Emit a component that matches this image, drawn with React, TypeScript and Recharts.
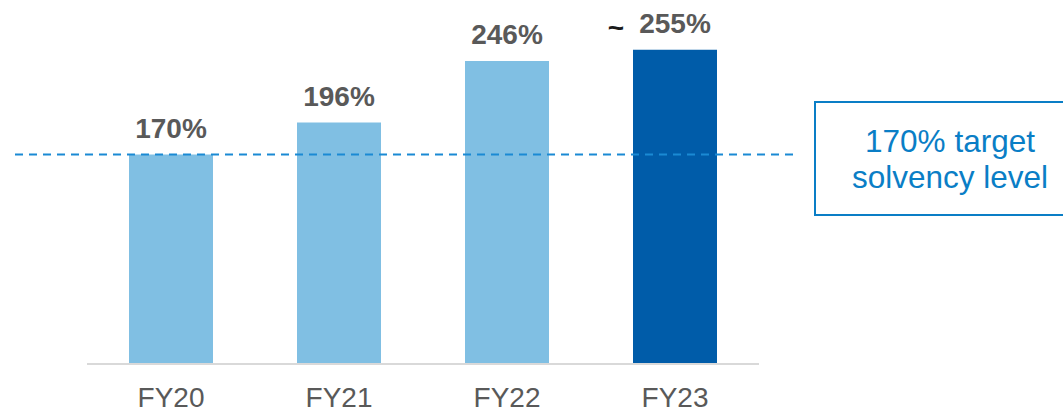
import React from "react";
import { BarChart, Bar, XAxis, YAxis, Cell, LabelList, ReferenceLine } from "recharts";

const years = ["FY20", "FY21", "FY22", "FY23"];
const solvency = [170, 196, 246, 255];
const prefixes = ["", "", "", "~"];
const barColors = ["#80bfe3", "#80bfe3", "#80bfe3", "#005ca9"];
const targetLevel = 170;
const noteLines = ["170% target", "solvency level"];

const data = years.map((year, i) => ({ year, value: solvency[i] }));

const font = "'Liberation Sans', Arial, sans-serif";

const BarLabel = (props: any) => {
  const { x, y, width, value, index } = props;
  const cx = Number(x) + Number(width) / 2;
  const prefix = prefixes[index];
  return (
    <g>
      {prefix && (
        <text x={cx - 59} y={Number(y) - 13} textAnchor="middle" fontSize={28} fontWeight="bold" fill="#1a1a1a" fontFamily={font}>
          {prefix}
        </text>
      )}
      <text x={cx} y={Number(y) - 17} textAnchor="middle" fontSize={28} fontWeight="bold" fill="#595959" fontFamily={font}>
        {value}%
      </text>
    </g>
  );
};

// dashed target line runs a bit past both ends of the plot
const TargetLine = (props: any) => {
  const { x1, x2, y1 } = props;
  return (
    <line x1={x1 - 72} x2={x2 + 34} y1={y1} y2={y1} stroke="#1a8ad4" strokeWidth={2} strokeDasharray="8 6" />
  );
};

export default function App() {
  return (
    <div style={{ position: "relative", width: 1063, height: 412, overflow: "hidden", background: "#fff", fontFamily: font }}>
      <style>{"body{margin:0}"}</style>
      <BarChart
        width={1063}
        height={412}
        data={data}
        margin={{ top: 19, right: 304, left: 87, bottom: 8 }}
        barCategoryGap="25%"
      >
        <XAxis
          dataKey="year"
          height={40}
          axisLine={{ stroke: "#d9d9d9", strokeWidth: 2 }}
          tickLine={false}
          tickMargin={17}
          tick={{ fontSize: 28, fill: "#595959", fontFamily: font }}
        />
        <YAxis hide domain={[0, 280]} />
        <Bar dataKey="value" isAnimationActive={false}>
          {data.map((d, i) => (
            <Cell key={d.year} fill={barColors[i]} />
          ))}
          <LabelList dataKey="value" position="top" content={BarLabel} />
        </Bar>
        <ReferenceLine y={targetLevel} ifOverflow="visible" shape={TargetLine} />
      </BarChart>
      <div
        style={{
          position: "absolute",
          left: 814,
          top: 101,
          width: 272,
          height: 115,
          boxSizing: "border-box",
          border: "2px solid #0a7ec6",
          display: "flex",
          flexDirection: "column",
          alignItems: "center",
          justifyContent: "center",
          color: "#0a7ec6",
          fontSize: 31.5,
          lineHeight: "36px",
        }}
      >
        {noteLines.map((t) => (
          <div key={t}>{t}</div>
        ))}
      </div>
    </div>
  );
}
